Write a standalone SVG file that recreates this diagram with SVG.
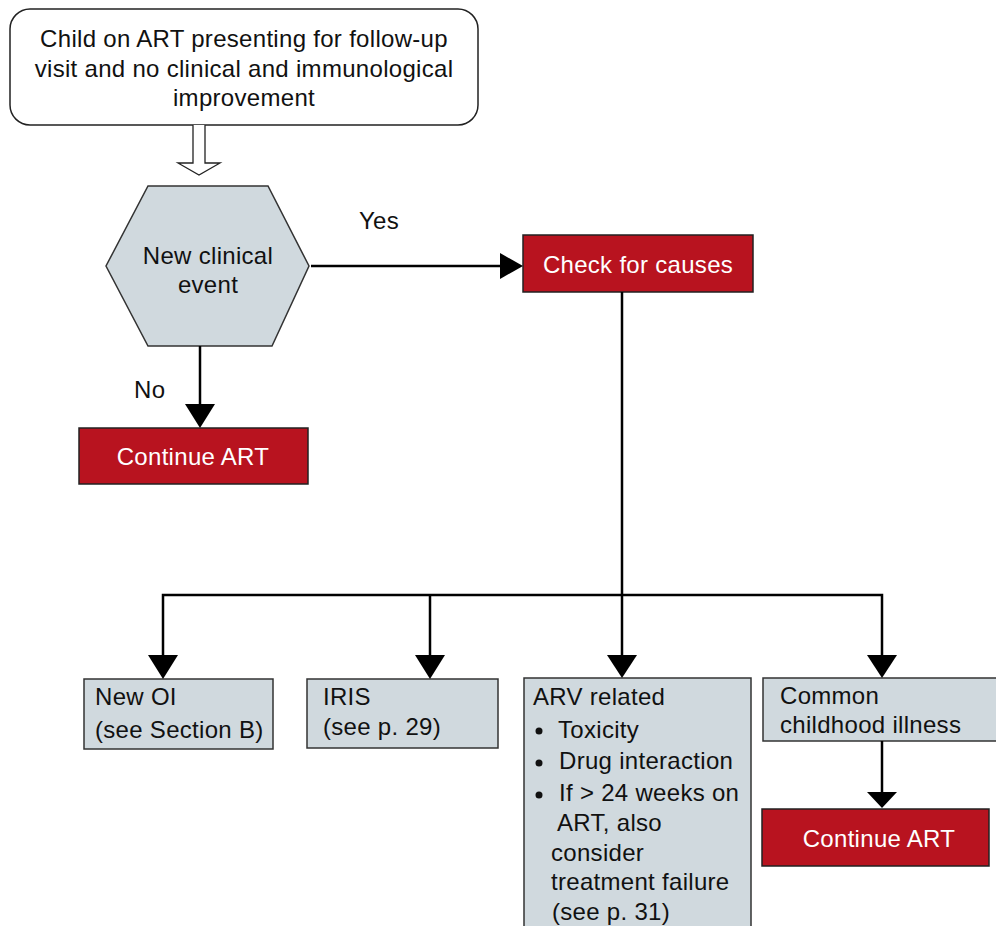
<svg xmlns="http://www.w3.org/2000/svg" width="996" height="926" viewBox="0 0 996 926">
<defs>
<style>
text{font-family:"Liberation Sans",Arial,sans-serif;font-size:24px;letter-spacing:0.3px;fill:#111}
.w{fill:#fff}
.c{text-anchor:middle}
.grey{fill:#d0d9de;stroke:#333;stroke-width:1.5}
.red{fill:#b8131f;stroke:#222;stroke-width:1.5}
.ln{fill:none;stroke:#000;stroke-width:2.5}
.head{fill:#000}
</style>
</defs>
<rect width="996" height="926" fill="#fff"/>

<g id="start">
<rect x="10" y="9" width="468" height="116" rx="20" fill="#fff" stroke="#222" stroke-width="1.5"/>
<text class="c" x="244" y="47">Child on ART presenting for follow-up</text>
<text class="c" x="244" y="77">visit and no clinical and immunological</text>
<text class="c" x="244" y="106">improvement</text>
</g>

<g id="decision">
<polygon class="grey" points="148,186 268,186 309,266 272,346 148,346 106,266"/>
<text class="c" x="208" y="264">New clinical</text>
<text class="c" x="208" y="293">event</text>
</g>

<g id="check">
<rect class="red" x="523" y="235" width="230" height="57"/>
<text class="c w" x="638" y="273">Check for causes</text>
</g>

<g id="continue1">
<rect class="red" x="79" y="428" width="229" height="56"/>
<text class="c w" x="193" y="465">Continue ART</text>
</g>

<g id="newoi">
<rect class="grey" x="84" y="679" width="189" height="70"/>
<text x="95" y="705">New OI</text>
<text x="95" y="738">(see Section B)</text>
</g>

<g id="iris">
<rect class="grey" x="307" y="679" width="191" height="69"/>
<text x="323" y="705">IRIS</text>
<text x="323" y="735">(see p. 29)</text>
</g>

<g id="arv">
<rect class="grey" x="524" y="678" width="227" height="260"/>
<text x="533" y="705">ARV related</text>
<circle cx="539" cy="731" r="3.5" fill="#111"/>
<text x="558" y="738">Toxicity</text>
<circle cx="539" cy="763" r="3.5" fill="#111"/>
<text x="559" y="769">Drug interaction</text>
<circle cx="539" cy="795" r="3.5" fill="#111"/>
<text x="559" y="801">If &gt; 24 weeks on</text>
<text x="557" y="831">ART, also</text>
<text x="551" y="861">consider</text>
<text x="551" y="890">treatment failure</text>
<text x="552" y="920">(see p. 31)</text>
</g>

<g id="common">
<rect class="grey" x="763" y="678" width="240" height="63"/>
<text x="780" y="704">Common</text>
<text x="780" y="733">childhood illness</text>
</g>

<g id="continue2">
<rect class="red" x="762" y="809" width="227" height="57"/>
<text class="c w" x="879" y="847">Continue ART</text>
</g>

<g id="connectors">
<path d="M193,125 V163 H178 L199,175 L220,163 H205 V125" fill="#fff" stroke="#222" stroke-width="1.3"/>
<line class="ln" x1="311" y1="266" x2="502" y2="266"/>
<polygon class="head" points="500,253 523,266 500,279"/>
<text x="359" y="229">Yes</text>
<line class="ln" x1="200" y1="346" x2="200" y2="406"/>
<polygon class="head" points="185,404 200,428 215,404"/>
<text x="134" y="398">No</text>
<polyline class="ln" points="622,292 622,595"/>
<polyline class="ln" points="163,657 163,595 882,595 882,657"/>
<line class="ln" x1="430" y1="595" x2="430" y2="657"/>
<line class="ln" x1="622" y1="595" x2="622" y2="657"/>
<polygon class="head" points="148,655 163,679 178,655"/>
<polygon class="head" points="415,655 430,679 445,655"/>
<polygon class="head" points="607,655 622,678 637,655"/>
<polygon class="head" points="867,655 882,678 897,655"/>
<line class="ln" x1="882" y1="741" x2="882" y2="792"/>
<polygon class="head" points="867,792 882,808 897,792"/>
</g>
</svg>
